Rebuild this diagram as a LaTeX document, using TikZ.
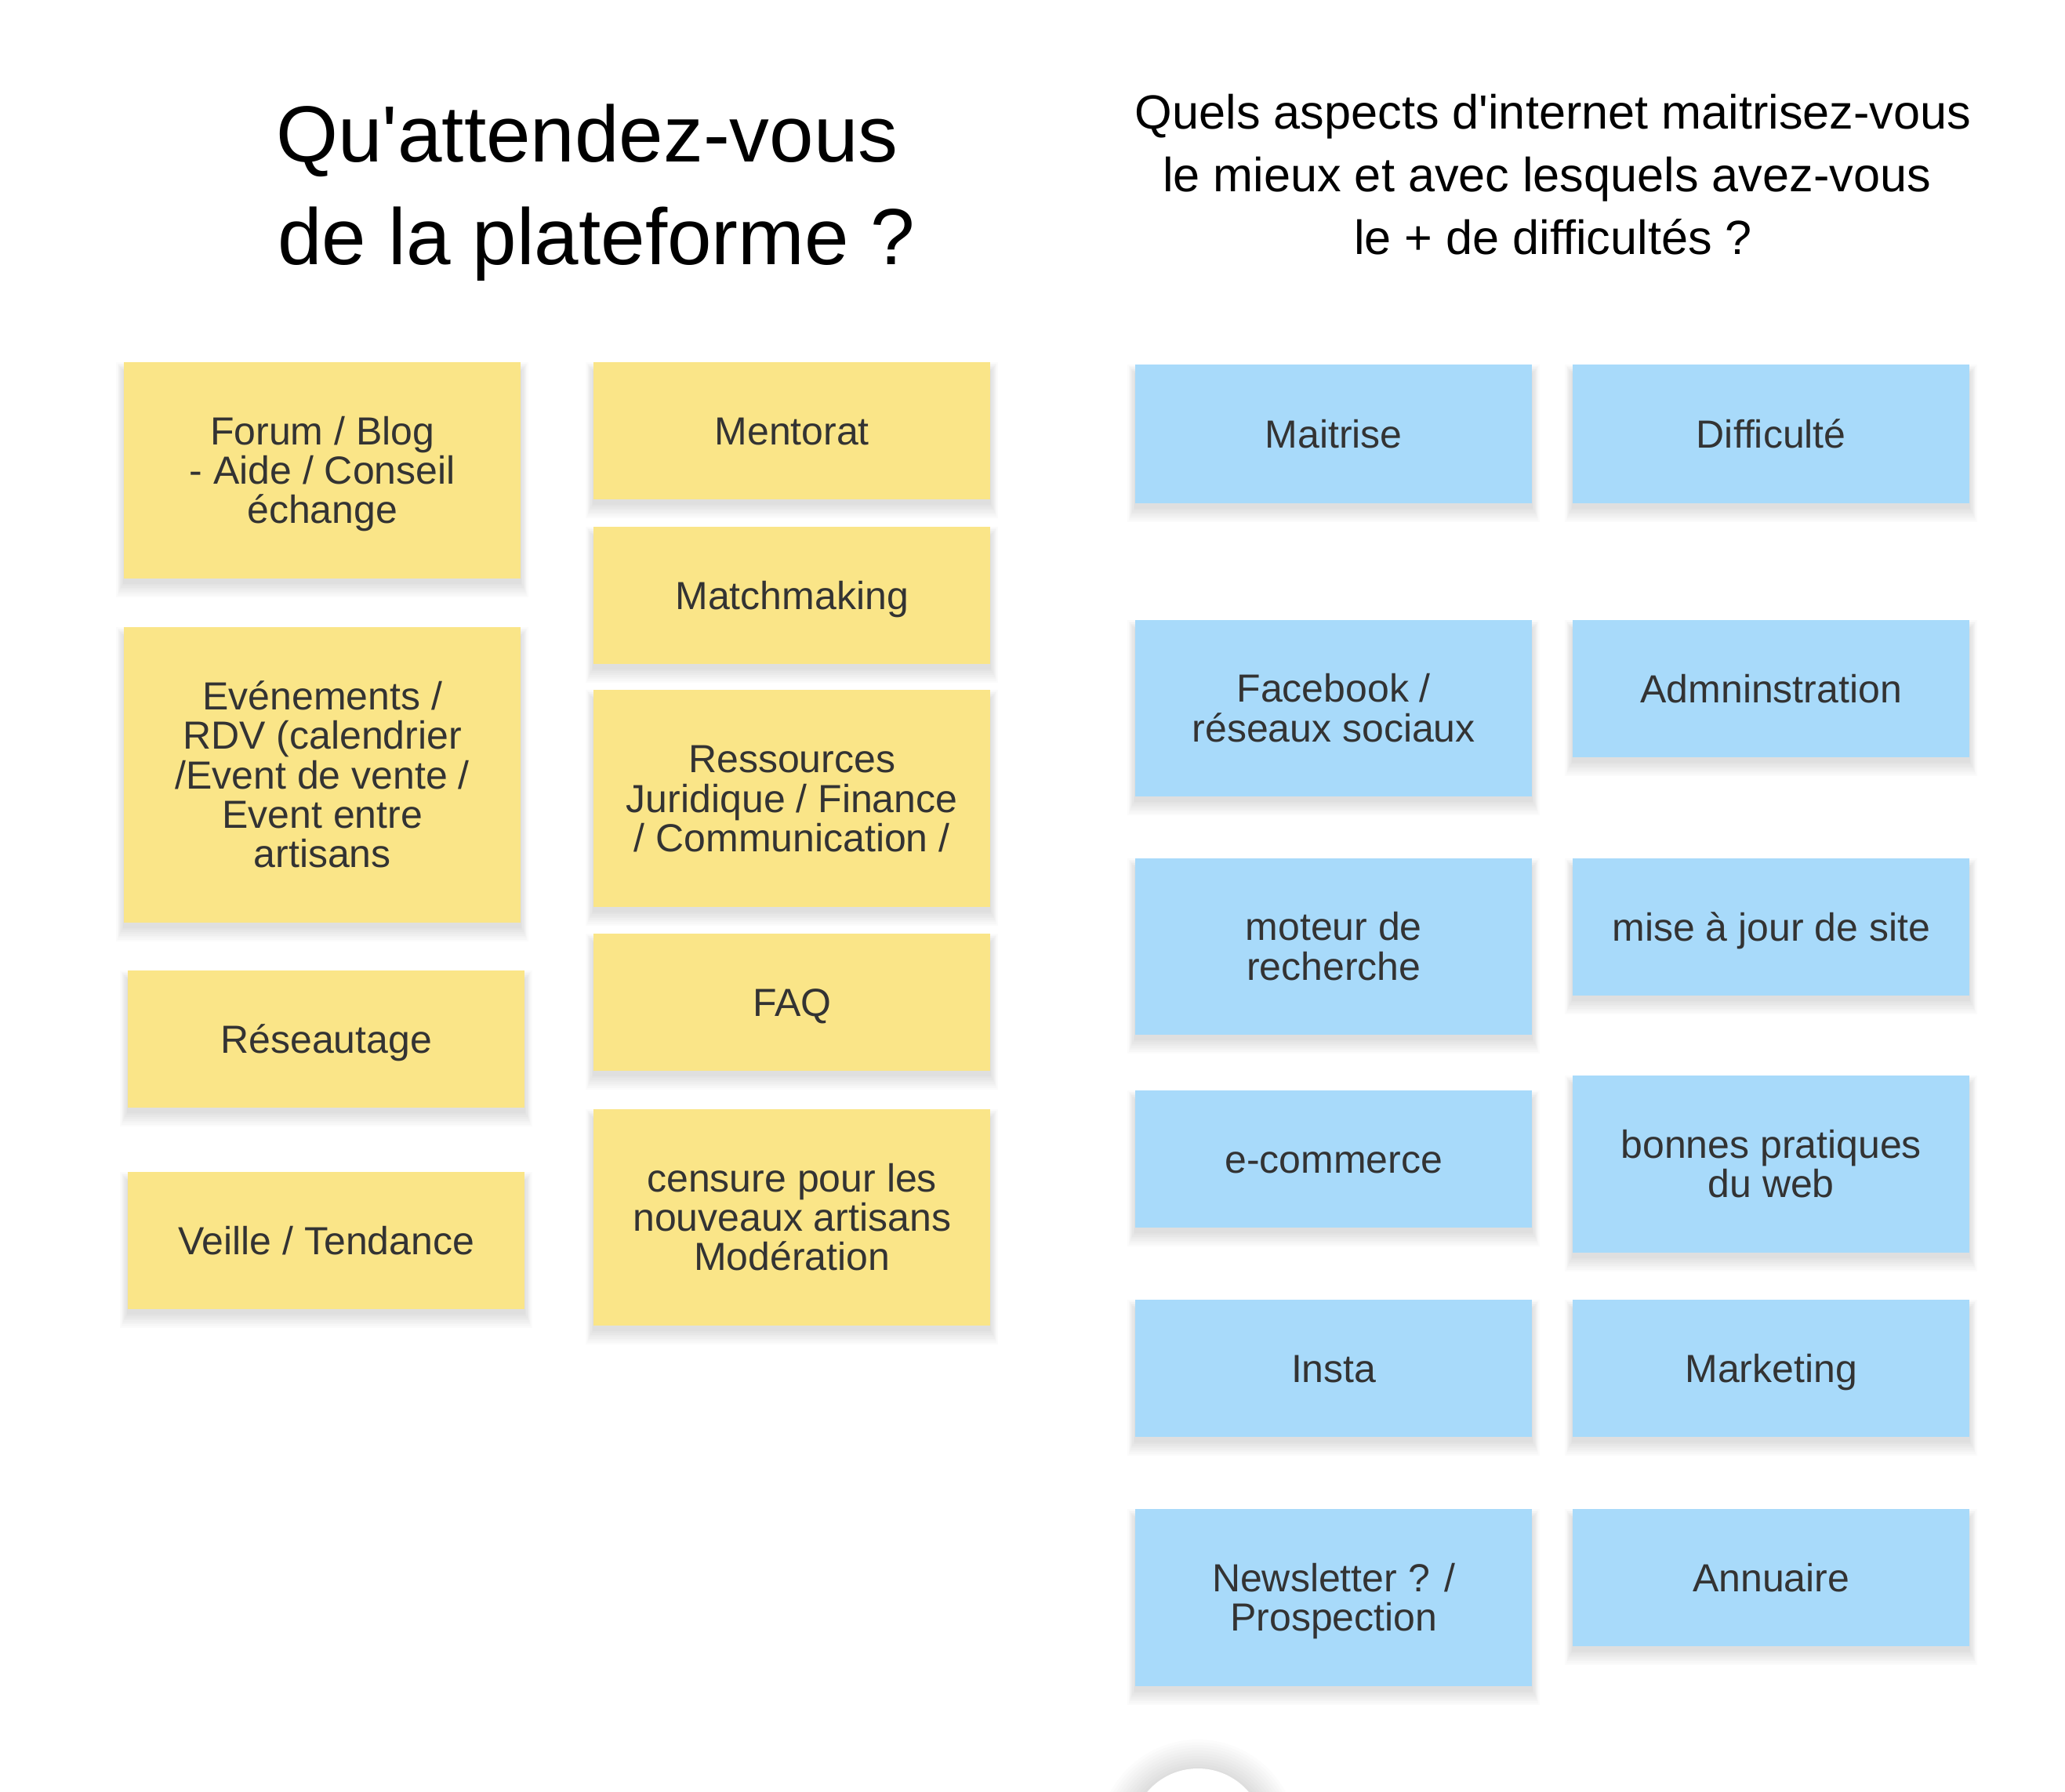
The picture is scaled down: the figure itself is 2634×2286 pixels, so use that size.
\documentclass[tikz,border=0pt]{standalone}
\usepackage{fontspec}
\newfontfamily\lsans{Liberation Sans}
\definecolor{ynote}{HTML}{FAE588}
\definecolor{bnote}{HTML}{A8DAFA}
\definecolor{ntext}{HTML}{333333}
\tikzset{
  note/.style={anchor=north west, inner sep=0pt, align=center, text=ntext,
    font=\lsans\fontsize{50}{50.4}\selectfont, text depth=7.9pt},
  ystick/.style={note, fill=ynote},
  bstick/.style={note, fill=bnote},
  bigtitle/.style={anchor=base, inner sep=0pt, text=black, font=\lsans\fontsize{101.6}{132}\selectfont},
  smalltitle/.style={anchor=base, inner sep=0pt, text=black, font=\lsans\fontsize{61.2}{80}\selectfont},
}
\newcommand{\softshadow}[4]{%
  \foreach \k in {1,...,8}{%
    \fill[black, opacity=0.015] ({#1-1.2*\k}, {#2+12-1.5*\k}) rectangle ({#1+#3+1.2*\k}, {#2+#4+4+2.5*\k});
  }%
}
% style, name, x, y, w, h, lines, text
\newcommand{\stickynote}[8]{%
  \softshadow{#3}{#4}{#5}{#6}
  \pgfmathsetmacro\noteheight{(#7-1)*50.4+42.5}
  \node[#1, minimum width=#5pt, minimum height=#6pt, text height=\noteheight pt] (#2) at (#3,#4) {#8};
}
\begin{document}
\begin{tikzpicture}[x=1pt, y=-1pt]
\clip (0,0) rectangle (2634,2286);
\fill[white] (0,0) rectangle (2634,2286);

% titles
\node[bigtitle] (t1a) at (749,206) {Qu'attendez-vous};
\node[bigtitle] (t1b) at (761,337) {de la plateforme ?};
\node[smalltitle] (t2a) at (1981,164) {Quels aspects d'internet maitrisez-vous};
\node[smalltitle] (t2b) at (1973,244) {le mieux et avec lesquels avez-vous};
\node[smalltitle] (t2c) at (1981,324) {le + de difficultés ?};

% yellow column 1
\stickynote{ystick}{forum}{158}{462}{506}{276}{3}{Forum / Blog\\- Aide / Conseil\\échange}
\stickynote{ystick}{events}{158}{800}{506}{377}{5}{Evénements /\\RDV (calendrier\\/Event de vente /\\Event entre\\artisans}
\stickynote{ystick}{reseau}{163}{1238}{506}{175}{1}{Réseautage}
\stickynote{ystick}{veille}{163}{1495}{506}{175}{1}{Veille / Tendance}

% yellow column 2
\stickynote{ystick}{mentorat}{757}{462}{506}{175}{1}{Mentorat}
\stickynote{ystick}{match}{757}{672}{506}{175}{1}{Matchmaking}
\stickynote{ystick}{ressources}{757}{880}{506}{277}{3}{Ressources\\Juridique / Finance\\/ Communication /}
\stickynote{ystick}{faq}{757}{1191}{506}{175}{1}{FAQ}
\stickynote{ystick}{censure}{757}{1415}{506}{276}{3}{censure pour les\\nouveaux artisans\\Modération}

% blue column 1
\stickynote{bstick}{maitrise}{1448}{465}{506}{177}{1}{Maitrise}
\stickynote{bstick}{facebook}{1448}{791}{506}{225}{2}{Facebook /\\réseaux sociaux}
\stickynote{bstick}{moteur}{1448}{1095}{506}{225}{2}{moteur de\\recherche}
\stickynote{bstick}{ecom}{1448}{1391}{506}{175}{1}{e-commerce}
\stickynote{bstick}{insta}{1448}{1658}{506}{175}{1}{Insta}
\stickynote{bstick}{newsletter}{1448}{1925}{506}{226}{2}{Newsletter ? /\\Prospection}

% blue column 2
\stickynote{bstick}{difficulte}{2006}{465}{506}{177}{1}{Difficulté}
\stickynote{bstick}{admin}{2006}{791}{506}{175}{1}{Admninstration}
\stickynote{bstick}{miseajour}{2006}{1095}{506}{175}{1}{mise à jour de site}
\stickynote{bstick}{bonnes}{2006}{1372}{506}{226}{2}{bonnes pratiques\\du web}
\stickynote{bstick}{marketing}{2006}{1658}{506}{175}{1}{Marketing}
\stickynote{bstick}{annuaire}{2006}{1925}{506}{175}{1}{Annuaire}

% round button at the bottom, cut by the edge
\foreach \k in {1,...,12}{%
  \fill[black, opacity=0.01] (1528,2346) circle ({85+3.5*\k});
}
\node[circle, fill=white, inner sep=0pt, minimum size=170pt] (button) at (1528,2341) {};
\end{tikzpicture}
\end{document}
